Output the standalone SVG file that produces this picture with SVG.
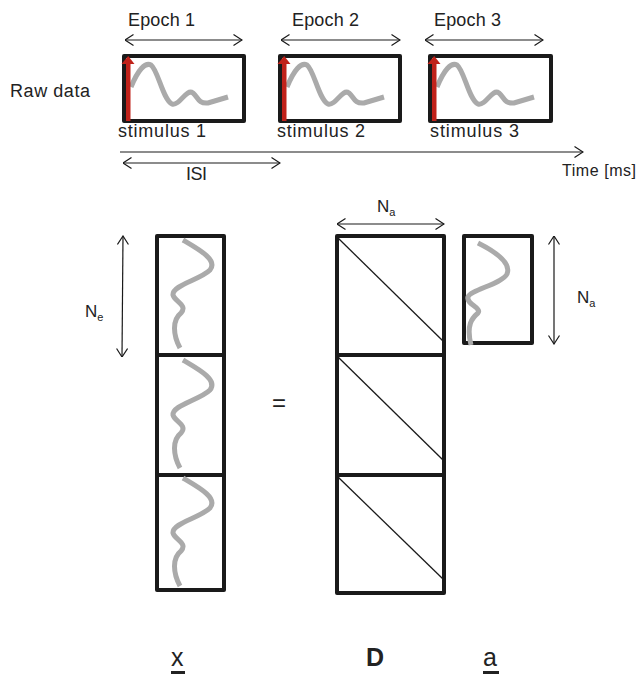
<svg xmlns="http://www.w3.org/2000/svg" width="641" height="676" viewBox="0 0 641 676">
<defs>
<marker id="oa" viewBox="0 0 10 12" refX="9.5" refY="6" markerWidth="10" markerHeight="12" markerUnits="userSpaceOnUse" orient="auto-start-reverse">
<path d="M1,0.5 L9.5,6 L1,11.5" fill="none" stroke="#1a1a1a" stroke-width="1.2"/>
</marker>
<path id="wave" d="M131,87 C138,70 145,62 151,65 C158,70 163,100 172,104 C180,106 186,88 193,93 C198,97 198,104 208,103 L228,97"/>
<path id="vwave" d="M183,240 C200,250 218,260 210,270 C200,280 172,285 173,295 C175,302 188,305 181,313 C172,320 173,335 180,348"/>
</defs>
<style>
text{font-family:"Liberation Sans",Arial,sans-serif;fill:#222}
.box{fill:none;stroke:#1a1a1a;stroke-width:4;stroke-linejoin:round}
.sig{fill:none;stroke:#aaaaaa;stroke-width:5;stroke-linecap:butt}
.ar{fill:none;stroke:#1a1a1a;stroke-width:1.2}
.diag{stroke:#1a1a1a;stroke-width:1.3}
.stim{fill:#c0221a}
</style>
<g id="raw-label"><text x="10" y="97" font-size="18" textLength="80">Raw data</text></g>
<g id="epoch1">
<text x="128" y="26" font-size="18" textLength="67">Epoch 1</text>
<rect class="box" x="124" y="56" width="120" height="65"/>
<use href="#wave" class="sig"/>
<rect class="stim" x="126" y="62" width="4.5" height="59"/>
<path class="stim" d="M121.5,64 L128.2,56 L134.5,64 Z"/>
<text x="118" y="137" font-size="18" textLength="88">stimulus 1</text>
</g>
<g id="epoch2">
<text x="292" y="26" font-size="18" textLength="67">Epoch 2</text>
<rect class="box" x="280" y="56" width="120" height="65"/>
<use href="#wave" class="sig" transform="translate(156,0)"/>
<rect class="stim" x="282" y="62" width="4.5" height="59"/>
<path class="stim" d="M277.5,64 L284.2,56 L290.5,64 Z"/>
<text x="277" y="137" font-size="18" textLength="88">stimulus 2</text>
</g>
<g id="epoch3">
<text x="434" y="26" font-size="18" textLength="67">Epoch 3</text>
<rect class="box" x="430" y="56" width="121" height="65"/>
<use href="#wave" class="sig" transform="translate(306,0)"/>
<rect class="stim" x="432" y="62" width="4.5" height="59"/>
<path class="stim" d="M427.5,64 L434.2,56 L440.5,64 Z"/>
<text x="430" y="137" font-size="18" textLength="89">stimulus 3</text>
</g>
<g id="time-label"><text x="562" y="176" font-size="16" textLength="74">Time [ms]</text></g>
<g id="isi-label"><text x="186" y="180" font-size="18" textLength="21">ISI</text></g>
<g id="x-vector">
<rect class="box" x="157" y="236" width="67" height="119"/>
<rect class="box" x="157" y="355" width="67" height="120"/>
<rect class="box" x="157" y="475" width="67" height="115"/>
<use href="#vwave" class="sig"/>
<use href="#vwave" class="sig" transform="translate(0,120)"/>
<use href="#vwave" class="sig" transform="translate(0,238)"/>
</g>
<g id="ne-label"><text x="85" y="317" font-size="17">N<tspan font-size="11" dy="4">e</tspan></text></g>
<g id="equals"><text x="272" y="411" font-size="24">=</text></g>
<g id="D-matrix">
<rect class="box" x="337" y="236" width="107" height="119"/>
<rect class="box" x="337" y="355" width="107" height="120"/>
<rect class="box" x="337" y="475" width="107" height="118"/>
<line class="diag" x1="338" y1="238" x2="443" y2="341"/>
<line class="diag" x1="338" y1="357" x2="443" y2="460"/>
<line class="diag" x1="338" y1="477" x2="443" y2="579"/>
</g>
<g id="na-top-label"><text x="377" y="212" font-size="17">N<tspan font-size="11" dy="4">a</tspan></text></g>
<g id="a-vector">
<rect class="box" x="464" y="236" width="68" height="107"/>
<path class="sig" d="M478,243 C492,250 512,262 507,274 C502,284 470,290 468,297 C466,304 482,308 478,313 C472,318 466,325 471,345"/>
</g>
<g id="na-right-label"><text x="577" y="303" font-size="17">N<tspan font-size="11" dy="4">a</tspan></text></g>
<g id="bottom-labels">
<text x="171" y="666" font-size="25">x</text>
<rect x="171" y="671" width="14" height="3" fill="#222"/>
<text x="366" y="666" font-size="25" font-weight="bold">D</text>
<text x="483" y="666" font-size="25">a</text>
<rect x="483" y="671" width="16" height="3" fill="#222"/>
</g>
<g id="connectors">
<line class="ar" x1="125" y1="40" x2="242" y2="40" marker-start="url(#oa)" marker-end="url(#oa)"/>
<line class="ar" x1="281" y1="40" x2="400" y2="40" marker-start="url(#oa)" marker-end="url(#oa)"/>
<line class="ar" x1="425" y1="40" x2="543" y2="40" marker-start="url(#oa)" marker-end="url(#oa)"/>
<line class="ar" x1="120" y1="152" x2="583" y2="152" marker-end="url(#oa)"/>
<line class="ar" x1="123" y1="163" x2="280" y2="163" marker-start="url(#oa)" marker-end="url(#oa)"/>
<line class="ar" x1="123" y1="236" x2="122" y2="357" marker-start="url(#oa)" marker-end="url(#oa)"/>
<line class="ar" x1="337" y1="224" x2="444" y2="224" marker-start="url(#oa)" marker-end="url(#oa)"/>
<line class="ar" x1="554" y1="236" x2="554" y2="344" marker-start="url(#oa)" marker-end="url(#oa)"/>
</g>
</svg>
